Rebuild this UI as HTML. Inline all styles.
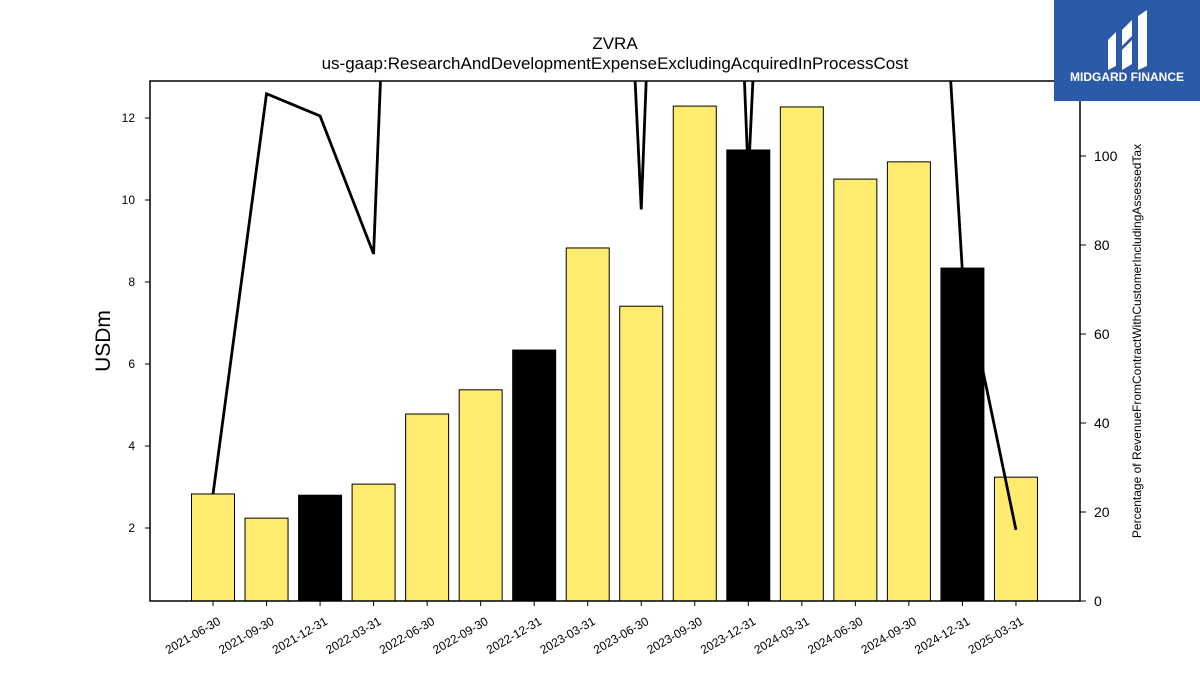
<!DOCTYPE html>
<html><head><meta charset="utf-8"><style>
body{margin:0;background:#fff;}
svg{display:block;font-family:"Liberation Sans","DejaVu Sans",sans-serif;}
</style></head><body>
<svg id="chart" width="1200" height="675">
<defs><clipPath id="plotclip"><rect x="150" y="81" width="930" height="520"/></clipPath></defs>
<text x="615" y="49" text-anchor="middle" font-size="17">ZVRA</text>
<text x="615" y="69" text-anchor="middle" font-size="17">us-gaap:ResearchAndDevelopmentExpenseExcludingAcquiredInProcessCost</text>
<g id="bars"></g>
<g id="line" clip-path="url(#plotclip)"></g>
<rect x="150" y="81" width="930" height="520" fill="none" stroke="#000" stroke-width="1.5"/>
<g id="xaxis"></g>
<g id="yaxis"></g>
<g id="y2axis"></g>
<text transform="translate(110,341) rotate(-90)" text-anchor="middle" font-size="21">USDm</text>
<text transform="translate(1141,341) rotate(-90)" text-anchor="middle" font-size="12">Percentage of RevenueFromContractWithCustomerIncludingAssessedTax</text>
<g>
<rect x="1054" y="0" width="146" height="101" fill="#2d5aa8"/>
<path d="M1108 40 L1116 32 L1116 66 L1108 70 Z M1122 30 L1132 20 L1132 36 L1122 46 Z M1122 50 L1132 40 L1132 64 L1122 70 Z M1138 16 L1147 10 L1147 66 L1138 70 Z" fill="#fff"/>
<text x="1127" y="81" text-anchor="middle" font-size="12" font-weight="bold" fill="#fff">MIDGARD FINANCE</text>
</g>
</svg>
<script>
const categories=["2021-06-30","2021-09-30","2021-12-31","2022-03-31","2022-06-30","2022-09-30","2022-12-31","2023-03-31","2023-06-30","2023-09-30","2023-12-31","2024-03-31","2024-06-30","2024-09-30","2024-12-31","2025-03-31"];
const barValues=[2.83,2.24,2.80,3.07,4.78,5.37,6.34,8.83,7.41,12.29,11.22,12.27,10.51,10.93,8.34,3.24];
const pctValues=[24,114,109,78,380,300,320,340,88,400,95,350,320,270,74,16];
const leftTicks=[2,4,6,8,10,12];
const rightTicks=[0,20,40,60,80,100];
const NS="http://www.w3.org/2000/svg";
const x0=213,dx=53.53,bw=43;
function xPos(i){return x0+i*dx;}
function yL(v){return 610-v*41;}
function yR(v){return 601-v*4.45;}
function mk(t,a,p){const e=document.createElementNS(NS,t);for(const k in a)e.setAttribute(k,a[k]);p.appendChild(e);return e;}
const bars=document.getElementById('bars');
barValues.forEach((v,i)=>{
 const dark=categories[i].endsWith('12-31');
 const r=mk('rect',{x:xPos(i)-bw/2,y:yL(v),width:bw,height:601-yL(v),fill:dark?'#000':'#ffeb6e',stroke:'#000','stroke-width':1},bars);
 
 
});
const line=document.getElementById('line');
const pl=mk('polyline',{points:pctValues.map((v,i)=>xPos(i)+','+yR(v)).join(' '),fill:'none',stroke:'#000','stroke-width':2.8},line);


const xa=document.getElementById('xaxis');
categories.forEach((c,i)=>{
 const x=xPos(i);
 mk('line',{x1:x,x2:x,y1:601,y2:606,stroke:'#000'},xa);
 const t=mk('text',{transform:`translate(${x+4},616) rotate(-30)`,'text-anchor':'end','font-size':12,'dominant-baseline':'hanging'},xa);
 t.textContent=c;
 
 
});
const ya=document.getElementById('yaxis');
leftTicks.forEach(v=>{
 const y=yL(v);
 mk('line',{x1:145,x2:150,y1:y,y2:y,stroke:'#000'},ya);
 const t=mk('text',{x:135,y:y+4,'text-anchor':'end','font-size':12},ya);
 t.textContent=v;
 
 
});
const y2=document.getElementById('y2axis');
rightTicks.forEach(v=>{
 const y=yR(v);
 mk('line',{x1:1080,x2:1086,y1:y,y2:y,stroke:'#000'},y2);
 const t=mk('text',{x:1094,y:y+5,'font-size':14},y2);
 t.textContent=v;
 
 
});
</script>
</body></html>
